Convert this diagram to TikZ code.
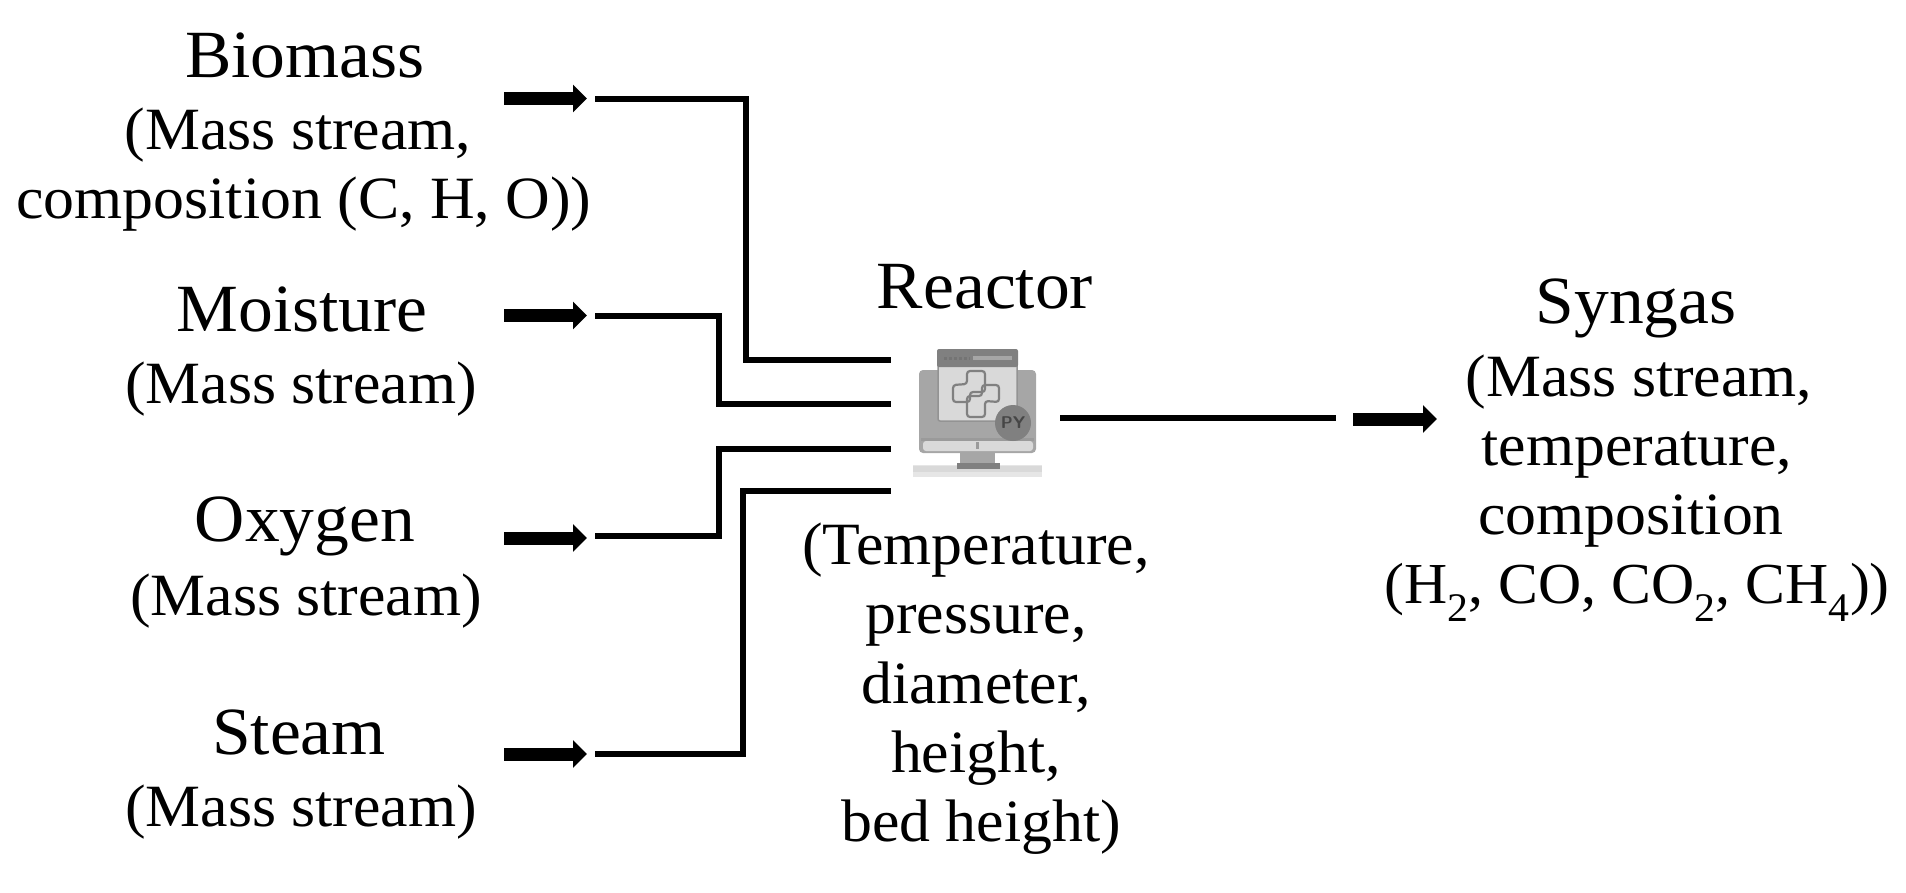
\documentclass[tikz,border=0pt]{standalone}
\usepackage{fontspec}
\setmainfont[FakeStretch=1.03]{Liberation Serif}
\usetikzlibrary{arrows.meta}
\definecolor{icA}{HTML}{A6A6A6}
\definecolor{icB}{HTML}{D9D9D9}
\definecolor{icC}{HTML}{808080}
\definecolor{icD}{HTML}{E6E6E6}
\tikzset{
  x=1pt,y=-1pt,
  lbl/.style={anchor=base,inner sep=0pt,font=\fontsize{60}{66}\selectfont},
  lblsub/.style={anchor=base,inner sep=0pt,font=\fontsize{58}{64}\selectfont},
  head/.style={anchor=base,inner sep=0pt,font=\fontsize{67.5}{70}\selectfont},
  wire/.style={line width=6pt,line join=miter,line cap=butt},
  flow/.style={line width=13pt,-{Triangle[length=14pt,width=27pt]}}
}
\begin{document}
\begin{tikzpicture}
\useasboundingbox (0,0) rectangle (1906,892);
% labels
\node[head] (biomass) at (305,77) {Biomass};
\node[lbl] (biomassA) at (298,149) {(Mass stream,};
\node[lbl] (biomassB) at (304,218) {composition (C, H, O))};
\node[head] (moisture) at (302,331) {Moisture};
\node[lbl] (moistureA) at (301,403) {(Mass stream)};
\node[head] (oxygen) at (305,541) {Oxygen};
\node[lbl] (oxygenA) at (306,615) {(Mass stream)};
\node[head] (steam) at (299,754) {Steam};
\node[lbl] (steamA) at (301,826) {(Mass stream)};
\node[head] (reactor) at (985,308) {Reactor};
\node[lbl] (paramA) at (976,564) {(Temperature,};
\node[lbl] (paramB) at (976,633) {pressure,};
\node[lbl] (paramC) at (976,703) {diameter,};
\node[lbl] (paramD) at (976,772) {height,};
\node[lbl] (paramE) at (981,841) {bed height)};
\node[head] (syngas) at (1636,323) {Syngas};
\node[lbl] (syngasA) at (1639,396) {(Mass stream,};
\node[lbl] (syngasB) at (1637,465) {temperature,};
\node[lbl] (syngasC) at (1631,534) {composition};
\node[lblsub] (syngasD) at (1637,603) {(H\textsubscript{2}, CO, CO\textsubscript{2}, CH\textsubscript{4}))};
% arrow and connector ends
\coordinate (a1s) at (504,98.5); \coordinate (a1e) at (587,98.5);
\coordinate (a2s) at (504,315.5); \coordinate (a2e) at (587,315.5);
\coordinate (a3s) at (504,538); \coordinate (a3e) at (587,538);
\coordinate (a4s) at (504,754); \coordinate (a4e) at (587,754);
\coordinate (a5s) at (1353,419); \coordinate (a5e) at (1437,419);
\coordinate (w1) at (595,98.5); \coordinate (w1m) at (746,360); \coordinate (w1e) at (891,360);
\coordinate (w2) at (595,315.5); \coordinate (w2m) at (719,404); \coordinate (w2e) at (891,404);
\coordinate (w3) at (595,536); \coordinate (w3m) at (719,449); \coordinate (w3e) at (891,449);
\coordinate (w4) at (595,754); \coordinate (w4m) at (743,491); \coordinate (w4e) at (891,491);
\coordinate (w5) at (1060,418); \coordinate (w5e) at (1336,418);
\draw[flow] (a1s) -- (a1e);
\draw[flow] (a2s) -- (a2e);
\draw[flow] (a3s) -- (a3e);
\draw[flow] (a4s) -- (a4e);
\draw[flow] (a5s) -- (a5e);
\draw[wire] (w1) -| (w1m) -- (w1e);
\draw[wire] (w2) -| (w2m) -- (w2e);
\draw[wire] (w3) -| (w3m) -- (w3e);
\draw[wire] (w4) -| (w4m) -- (w4e);
\draw[wire] (w5) -- (w5e);
% reactor icon
\fill[icD] (913,465) rectangle (1042,477);
\fill[icB] (913,466) rectangle (1042,472);
\fill[icA] (960,452) rectangle (995,465);
\fill[icC] (957,463) rectangle (1000,469);
\fill[icA,rounded corners=4pt] (919,370) rectangle (1036,453);
\fill[icC!70!white] (923,372) rectangle (1032,377);
\fill[icB,rounded corners=3pt] (923,441) rectangle (1033,451);
\fill[icC!80!white] (921,438) rectangle (1034,441);
\fill[icC!80!white] (976,442) rectangle (979,449);
\fill[icB,draw=icC!85!white,line width=1.5pt,rounded corners=2pt] (938,352) rectangle (1017,421);
\fill[icC,rounded corners=2pt] (937,349) rectangle (1018,367);
\draw[icA!70!black,line width=3pt,dash pattern=on 3pt off 2pt] (944,358) -- (970,358);
\draw[icA,line width=4pt] (973,358) -- (1012,358);
\begin{scope}[icC,line width=2.2pt,rounded corners=3pt]
  \draw (967,384) -- (967,371) -- (985,371) -- (985,392) -- (970,392) -- (970,402) -- (953,402) -- (953,385) -- cycle;
  \draw (985,401) -- (985,417) -- (967,417) -- (967,396) -- (982,396) -- (982,385) -- (999,385) -- (999,402) -- cycle;
\end{scope}
\fill[icC] (1013,423) circle (18pt);
\node[inner sep=0pt,text=icC!55!black,font=\sffamily\bfseries\fontsize{17}{17}\selectfont] (py) at (1013,423) {PY};
\end{tikzpicture}
\end{document}
